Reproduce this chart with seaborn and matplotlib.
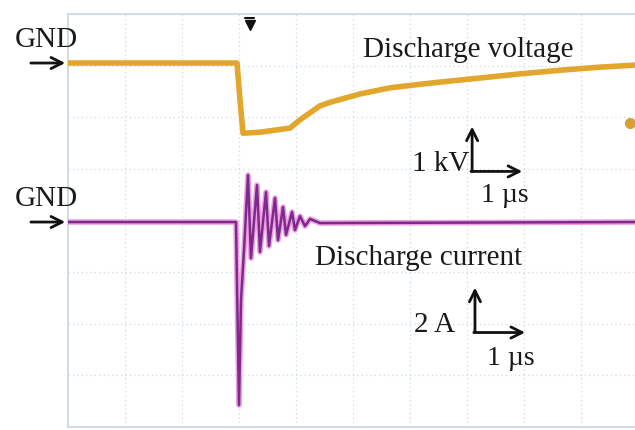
import matplotlib
matplotlib.use("Agg")
import matplotlib.pyplot as plt
import seaborn as sns
import pandas as pd

# ---- data (time in µs from left edge of the screen) ----
voltage_time = [0.0, 2.965, 3.018, 3.07, 3.368, 3.895, 4.07, 4.42, 4.60, 5.12,
                5.65, 6.35, 7.23, 7.93, 8.63, 9.33, 9.95]
voltage_kv = [0.0, 0.0, -0.72, -1.36, -1.34, -1.26, -1.10, -0.83, -0.76, -0.60,
              -0.48, -0.39, -0.29, -0.21, -0.14, -0.08, -0.04]

current_time = [0.0, 2.947, 3.0, 3.035, 3.088, 3.158, 3.21, 3.316, 3.368, 3.474,
                3.526, 3.632, 3.684, 3.772, 3.825, 3.93, 3.982, 4.07, 4.158,
                4.246, 4.42, 9.95]
current_a = [0.0, 0.0, -7.09, -3.02, -1.09, 1.82, -1.40, 1.43, -1.16, 1.16,
             -0.93, 0.93, -0.70, 0.58, -0.50, 0.39, -0.31, 0.23, -0.16,
             0.12, -0.04, 0.0]

# screen settings
volt_per_div = 1.0      # kV/div
amp_per_div = 2.0       # A/div
volt_gnd_div = 7.05     # ground level of channel 1 (divisions from bottom)
curr_gnd_div = 3.97     # ground level of channel 2
trigger_time = 3.19
labels = {"voltage": "Discharge voltage", "current": "Discharge current"}

sns.set_theme(style="white")
plt.rcParams['font.family'] = ['Liberation Serif', 'DejaVu Serif']

fig = plt.figure(figsize=(6.35, 4.30), dpi=100)
ax = fig.add_axes([0.1071, 0.007, 0.8976, 0.9605])
ax.set_xlim(0, 10)
ax.set_ylim(0, 8)

dfv = pd.DataFrame({"t": voltage_time,
                    "div": [volt_gnd_div + v / volt_per_div for v in voltage_kv]})
dfc = pd.DataFrame({"t": current_time,
                    "div": [curr_gnd_div + c / amp_per_div for c in current_a]})

# grid
grid_col = "#c9dbe8"
for xv in range(1, 10):
    ax.axvline(xv, color=grid_col, lw=0.9, ls=(0, (1, 2.5)), zorder=0)
for yv in range(1, 8):
    ax.axhline(yv, color=grid_col, lw=0.9, ls=(0, (1, 2.5)), zorder=0)
for s in ax.spines.values():
    s.set_color("#c8d6e0")
    s.set_linewidth(1.2)
ax.set_xticks([])
ax.set_yticks([])

sns.lineplot(data=dfv, x="t", y="div", ax=ax, color="#E2A62C", lw=4.0,
             sort=False, estimator=None, zorder=3)
sns.lineplot(data=dfc, x="t", y="div", ax=ax, color="#EE86D6", lw=4.0,
             sort=False, estimator=None, zorder=3, alpha=0.8)
sns.lineplot(data=dfc, x="t", y="div", ax=ax, color="#7B2B8E", lw=1.8,
             sort=False, estimator=None, zorder=4)
ax.set_xlabel("")
ax.set_ylabel("")

fs = 21
txt_col = "#1a1a1a"
# GND labels and arrows (outside left)
for gnd in (volt_gnd_div, curr_gnd_div):
    ax.text(-0.93, gnd + 0.45, "GND", fontsize=fs, ha="left", va="center",
            clip_on=False, color=txt_col)
    ax.annotate("", xy=(0.0, gnd), xytext=(-0.7, gnd),
                arrowprops=dict(arrowstyle="->", lw=2.0, color="#111111",
                                mutation_scale=20),
                annotation_clip=False)

# trigger marker
ax.plot([trigger_time], [7.78], marker="v", ms=7, color="#111111",
        clip_on=False, zorder=5)
ax.plot([trigger_time - 0.08, trigger_time + 0.08], [7.93, 7.93],
        color="#111111", lw=1.5, clip_on=False, zorder=5)

# channel marker on right edge
ax.plot([9.86], [5.88], marker="o", ms=7, color="#D9A030", clip_on=False, zorder=5)

# trace labels
ax.text(5.17, 7.30, labels["voltage"], fontsize=fs, ha="left", va="center",
        color=txt_col)
ax.text(4.33, 3.27, labels["current"], fontsize=fs, ha="left", va="center",
        color=txt_col)

def scale_mark(x0, y0, vlabel, vx_right, tlabel, tx, ty):
    ax.annotate("", xy=(x0, y0 + 0.87), xytext=(x0, y0),
                arrowprops=dict(arrowstyle="->", lw=2.0, color="#111111",
                                mutation_scale=20, shrinkA=0, shrinkB=0))
    ax.annotate("", xy=(x0 + 0.88, y0), xytext=(x0 - 0.02, y0),
                arrowprops=dict(arrowstyle="->", lw=2.0, color="#111111",
                                mutation_scale=20, shrinkA=0, shrinkB=0))
    ax.text(vx_right, y0 + 0.14, vlabel, fontsize=fs, ha="right", va="center",
            color=txt_col)
    ax.text(tx, ty, tlabel, fontsize=fs - 1, ha="left", va="center",
            color=txt_col)

scale_mark(7.09, 4.95, "1 kV", 7.05, "1 µs", 7.25, 4.49)
scale_mark(7.14, 1.83, "2 A", 6.80, "1 µs", 7.35, 1.33)

fig.savefig("out.png", dpi=100)
